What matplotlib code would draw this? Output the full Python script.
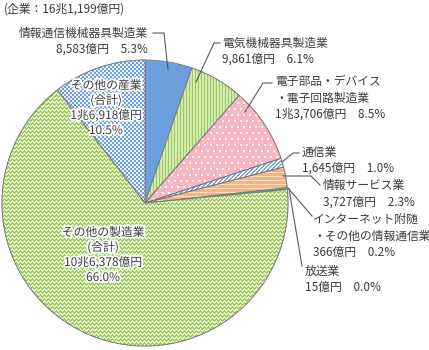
import numpy as np
import matplotlib
matplotlib.use("Agg")
import matplotlib.pyplot as plt
import matplotlib.patheffects as pe

plt.rcParams['font.family'] = ['Noto Sans CJK JP', 'DejaVu Sans']

# Sales by industry (億円), clockwise from 12 o'clock
categories = ['情報通信機械器具製造業', '電気機械器具製造業', '電子部品・デバイス\n・電子回路製造業',
              '通信業', '情報サービス業', 'インターネット附随\n・その他の情報通信業', '放送業',
              'その他の製造業\n(合計)', 'その他の産業\n(合計)']
values = [8583, 9861, 13706, 1645, 3727, 366, 15, 106378, 16918]

total = sum(values)


def fmt_oku(v):
    if v >= 10000:
        return f"{v // 10000}兆{v % 10000:,}億円"
    return f"{v:,}億円"


shares = [v / total * 100 for v in values]

TEXT = '#3c3c3c'
FS = 8.5

W, H = 429, 350
CX, CY, R = 145, 203, 143

fig = plt.figure(figsize=(W / 100, H / 100), dpi=100)
ax = fig.add_axes([0, 0, 1, 1])
ax.axis('off')
x0, x1 = -CX / R, (W - CX) / R
y0, y1 = -(H - CY) / R, CY / R


def P(x, y):
    """pixel position (from top-left) -> pie coordinates"""
    return ((x - CX) / R, (CY - y) / R)


base_colors = ['#6d9fdc', '#cfe6a8', '#f9b9c6', '#ffffff', '#f7b585',
               '#4fa9c2', '#4fa9c2', '#d9edc0', '#9cc0f0']
wedges, _ = ax.pie(values, colors=base_colors, startangle=90, counterclock=False,
                   radius=1, center=(0, 0), frame=True,
                   wedgeprops=dict(edgecolor='#7a7a7a', linewidth=0.6))

# Fill textures, one pixel grid over the whole canvas
ii, jj = np.mgrid[0:H, 0:W]


def rgb(h):
    return np.array(matplotlib.colors.to_rgb(h))


def two_tone(mask, c_on, c_off):
    img = np.empty((H, W, 3))
    img[:] = rgb(c_off)
    img[mask] = rgb(c_on)
    return img


tex = {}
# vertical stripes
tex[1] = two_tone(jj % 3 == 0, '#9fcb5e', '#d3e9b0')
# white dots on pink
dots = ((ii % 12 < 2) & (jj % 6 < 2)) | (((ii + 6) % 12 < 2) & ((jj + 3) % 6 < 2))
tex[2] = two_tone(dots, '#ffffff', '#f8b6c3')
# diagonal stripes
tex[3] = two_tone((ii + jj) % 4 < 2, '#7ea6e2', '#ffffff')
# horizontal stripes
tex[4] = two_tone(ii % 4 == 0, '#fde0c8', '#f7b383')
# zigzag
zig = np.abs((jj % 4) - 2)
tex[7] = two_tone(((ii + zig) % 4) < 2, '#9dcc57', '#e6f3d6')
# checker mesh
tex[8] = two_tone((ii // 2 + jj // 2) % 2 == 0, '#eef4fd', '#6d9ee6')

for k, img in tex.items():
    im = ax.imshow(img, extent=(x0, x1, y0, y1), origin='upper',
                   interpolation='nearest', aspect='auto', zorder=1.5)
    im.set_clip_path(wedges[k])
    # redraw the outline above the texture
    w = wedges[k]
    ax.add_patch(matplotlib.patches.Wedge(w.center, w.r, w.theta1, w.theta2,
                                          facecolor='none', edgecolor='#7a7a7a',
                                          linewidth=0.6, zorder=2))

ax.set_xlim(x0, x1)
ax.set_ylim(y0, y1)

# Title
ax.text(*P(4, 9), f"(企業：{fmt_oku(total)})", ha='left', va='center',
        fontsize=FS, color=TEXT)


def label(k):
    return f"{categories[k]}\n{fmt_oku(values[k])}　{shares[k]:.1f}%"


# Outside labels: (index, text anchor px, ha, leader polyline px)
outside = [
    (0, (148, 41), 'right', [(153, 33), (164, 33), (168, 70)]),
    (1, (222, 51), 'left', [(220, 43), (214, 43), (196, 82)]),
    (2, (275, 98), 'left', [(272, 83), (263, 83), (245, 112)]),
    (3, (302, 160), 'left', [(299, 153), (293, 153), (282, 162)]),
    (4, (323, 194), 'left', [(283, 176), (311, 176), (320, 185)]),
    (5, (313, 236), 'left', [(288, 188), (312, 216)]),
    (6, (305, 279), 'left', [(289, 189), (302, 266)]),
]
for k, pos, ha, line in outside:
    ax.text(*P(*pos), label(k), ha=ha, va='center', fontsize=FS, color=TEXT,
            linespacing=1.32, multialignment=ha, zorder=5)
    xs, ys = zip(*[P(x, y) for x, y in line])
    ax.plot(xs, ys, color='#5a5a5a', linewidth=0.8, zorder=4)

# Inside labels with a white halo
halo = [pe.withStroke(linewidth=2.6, foreground='white')]
inside = [(7, (103, 255)), (8, (106, 108))]
for k, pos in inside:
    txt = f"{categories[k]}\n{fmt_oku(values[k])}\n{shares[k]:.1f}%"
    ax.text(*P(*pos), txt, ha='center', va='center', fontsize=FS, color=TEXT,
            linespacing=1.2, multialignment='center', path_effects=halo, zorder=5)

fig.savefig('out.png', dpi=100)
